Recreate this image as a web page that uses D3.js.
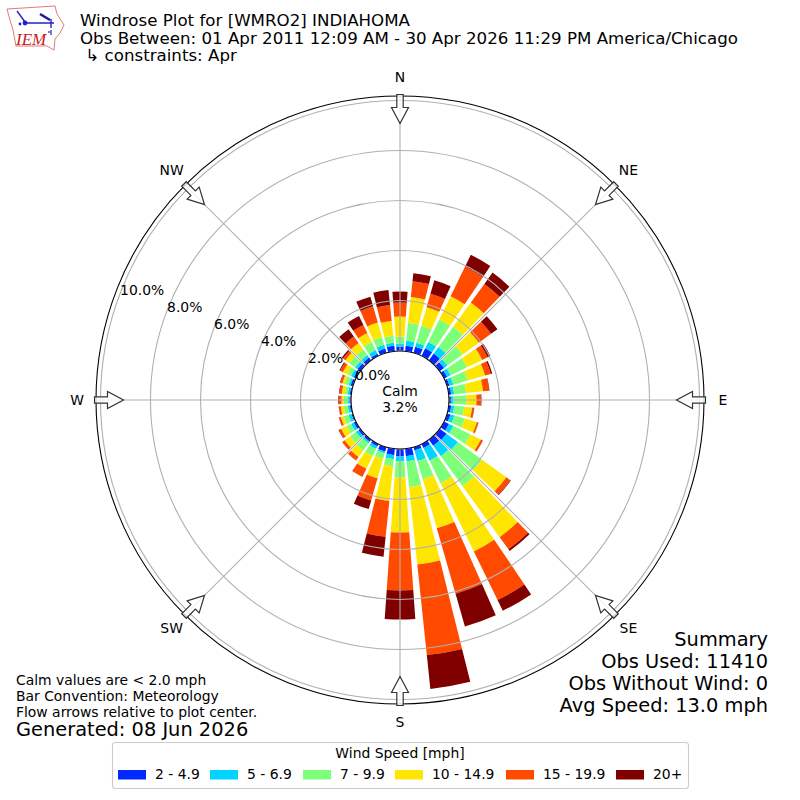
<!DOCTYPE html>
<html>
<head>
<meta charset="utf-8">
<script src="https://cdn.jsdelivr.net/npm/d3@7"></script>
<style>
  body { margin: 0; background: #fff; }
  svg { display: block; }
  text { font-family: "DejaVu Sans", sans-serif; fill: #000; }
</style>
</head>
<body>
<div id="chart"></div>
<script>
// percent of obs per 10 degree bin, starting at N and going clockwise
const directions = d3.range(0, 360, 10);

const speedLabels = ['2 - 4.9', '5 - 6.9', '7 - 9.9', '10 - 14.9', '15 - 19.9', '20+'];
const speedColors = ['#0028ff', '#00d4ff', '#7dff7a', '#ffe600', '#ff4a00', '#800000'];

const speed2to5 = [.16, .20, .24, .32, .32, .20, .12, .08, .08, .06, .08, .12, .20, .32, .28, .16, .12, .28,
  .28, .24, .16, .08, .08, .08, .08, .04, .04, .04, .04, .08, .08, .12, .12, .08, .16, .20];
const speed5to7 = [.12, .20, .16, .28, .32, .16, .16, .16, .12, .10, .12, .16, .20, .56, .52, .56, .44, .20,
  .20, .16, .08, .12, .08, .12, .12, .12, .08, .08, .08, .08, .12, .12, .12, .16, .16, .12];
const speed7to10 = [.28, .72, .72, 1.00, 1.00, .76, .72, .60, .48, .52, .40, .44, .76, 1.20, 1.48, 1.00, .76, 1.04,
  .64, .28, .24, .32, .36, .28, .20, .20, .16, .16, .12, .16, .16, .28, .28, .36, .32, .28];
const speed10to15 = [.80, 1.04, .76, 1.04, 1.20, .80, .68, .72, .68, .40, .32, .50, .46, 1.20, 2.52, 3.04, 2.04, 3.12,
  2.20, 1.40, .80, .56, .32, .28, .24, .12, .12, .08, .12, .10, .20, .20, .32, .40, .60, .60];
const speed15to20 = [.56, .64, .56, 1.32, .92, .60, .24, .24, .24, .18, .08, .06, .08, .20, .60, 2.16, 2.72, 3.64,
  2.32, 1.44, .92, .36, .16, .12, .10, .08, .08, .10, .10, .08, .12, .12, .32, .36, .68, .64];
const speed20up = [.44, .32, .56, .52, .56, .32, .12, .06, .02, .02, .01, .01, .01, .02, .08, .48, 1.36, 1.36,
  1.16, .80, .36, .004, .01, .004, .02, .01, .01, .03, .02, .02, .04, .06, .36, .40, .40, .60];

const speedSeries = [speed2to5, speed5to7, speed7to10, speed10to15, speed15to20, speed20up];

const radialTicks = [0, 2, 4, 6, 8, 10];
const compassAngles = [0, 45, 90, 135, 180, 225, 270, 315];
const compassNames = ['N', 'NE', 'E', 'SE', 'S', 'SW', 'W', 'NW'];
const compassNudge = [0, -2, 0, 0, -1, 0, 0, -2];

const titleLines = [
  'Windrose Plot for [WMRO2] INDIAHOMA',
  'Obs Between: 01 Apr 2011 12:09 AM - 30 Apr 2026 11:29 PM America/Chicago',
  ' \u21b3 constraints: Apr'
];
const noteLines = ['Calm values are < 2.0 mph', 'Bar Convention: Meteorology', 'Flow arrows relative to plot center.'];
const summaryLines = ['Summary', 'Obs Used: 11410', 'Obs Without Wind: 0', 'Avg Speed: 13.0 mph'];

const WIDTH = 800,
      HEIGHT = 800,
      CX = 400,
      CY = 400,
      BAR_DEG = 8,
      OUTER_R = 304;

const rad = (deg) => deg * Math.PI / 180;

const svg = d3.select('#chart').append('svg')
  .attr('width', WIDTH)
  .attr('height', HEIGHT);

const r = d3.scaleLinear().domain([0, 10]).range([49.5, 299.5]);

const plot = svg.append('g').attr('transform', 'translate(' + CX + ',' + CY + ')');

// stacked bars
const stacked = d3.stack()
  .keys(d3.range(speedSeries.length))
  .value((d, k) => speedSeries[k][d])(d3.range(directions.length));

const arc = d3.arc();

plot.selectAll('g.layer')
  .data(stacked)
  .enter().append('g')
  .attr('class', 'layer')
  .attr('fill', (d, i) => speedColors[i])
  .selectAll('path')
  .data((d) => d)
  .enter().append('path')
  .attr('d', (d) => {
    const a = directions[d.data];
    return arc({
      innerRadius: r(d[0]),
      outerRadius: r(d[1]),
      startAngle: rad(a - BAR_DEG / 2),
      endAngle: rad(a + BAR_DEG / 2)
    });
  });

// grid goes on top of the bars
plot.selectAll('circle.grid')
  .data(radialTicks.slice(1))
  .enter().append('circle')
  .attr('class', 'grid')
  .attr('r', (d) => r(d))
  .attr('fill', 'none')
  .attr('stroke', '#b0b0b0')
  .attr('stroke-width', 1.1);

plot.selectAll('line.grid')
  .data(compassAngles)
  .enter().append('line')
  .attr('class', 'grid')
  .attr('x1', (d) => r(0) * Math.sin(rad(d)))
  .attr('y1', (d) => -r(0) * Math.cos(rad(d)))
  .attr('x2', (d) => OUTER_R * Math.sin(rad(d)))
  .attr('y2', (d) => -OUTER_R * Math.cos(rad(d)))
  .attr('stroke', '#b0b0b0')
  .attr('stroke-width', 1.1);

plot.append('circle')
  .attr('r', OUTER_R)
  .attr('fill', 'none')
  .attr('stroke', '#000')
  .attr('stroke-width', 1.1);

plot.append('circle')
  .attr('r', r(0) - 0.5)
  .attr('fill', '#fff')
  .attr('stroke', '#000')
  .attr('stroke-width', 1.1);

// flow arrows, drawn pointing down from the north edge
const arrowShape = [[-3.2, 0], [3.2, 0], [3.2, 13], [8.5, 13], [0, 29], [-8.5, 13], [-3.2, 13]];

plot.selectAll('path.arrow')
  .data(compassAngles)
  .enter().append('path')
  .attr('class', 'arrow')
  .attr('d', d3.line()(arrowShape) + 'Z')
  .attr('transform', (d) => 'rotate(' + d + ') translate(0,' + (-OUTER_R - 1.5) + ')')
  .attr('fill', '#fff')
  .attr('fill-opacity', 0.8)
  .attr('stroke', '#333')
  .attr('stroke-width', 1.2);

plot.selectAll('text.compass')
  .data(compassAngles)
  .enter().append('text')
  .attr('class', 'compass')
  .attr('x', (d) => 323 * Math.sin(rad(d)))
  .attr('y', (d, i) => -323 * Math.cos(rad(d)) + compassNudge[i])
  .attr('text-anchor', 'middle')
  .attr('dominant-baseline', 'central')
  .style('font-size', '13.9px')
  .text((d, i) => compassNames[i]);

plot.selectAll('text.rlabel')
  .data(radialTicks)
  .enter().append('text')
  .attr('class', 'rlabel')
  .attr('x', (d) => r(d) * Math.sin(rad(290)) + 1.5)
  .attr('y', (d) => -r(d) * Math.cos(rad(290)) - 8)
  .attr('dominant-baseline', 'central')
  .style('font-size', '13.9px')
  .text((d) => d.toFixed(1) + '%');

plot.append('text')
  .attr('y', -9)
  .attr('text-anchor', 'middle')
  .attr('dominant-baseline', 'central')
  .style('font-size', '13.9px')
  .text('Calm');

plot.append('text')
  .attr('y', 7)
  .attr('text-anchor', 'middle')
  .attr('dominant-baseline', 'central')
  .style('font-size', '13.9px')
  .text('3.2%');

// header
svg.selectAll('text.title')
  .data(titleLines)
  .enter().append('text')
  .attr('class', 'title')
  .attr('x', 80)
  .attr('y', (d, i) => 26 + i * 17.7)
  .attr('xml:space', 'preserve')
  .style('font-size', '16.67px')
  .style('white-space', 'pre')
  .text((d) => d);

// notes, bottom left
svg.selectAll('text.note')
  .data(noteLines)
  .enter().append('text')
  .attr('class', 'note')
  .attr('x', 16)
  .attr('y', (d, i) => 685 + i * 16)
  .style('font-size', '13.9px')
  .text((d) => d);

svg.append('text')
  .attr('x', 16)
  .attr('y', 736)
  .style('font-size', '19.4px')
  .text('Generated: 08 Jun 2026');

// summary, bottom right
svg.selectAll('text.summary')
  .data(summaryLines)
  .enter().append('text')
  .attr('class', 'summary')
  .attr('x', 768)
  .attr('y', (d, i) => 646 + i * 22)
  .attr('text-anchor', 'end')
  .style('font-size', '19.4px')
  .text((d) => d);

// legend
const legend = svg.append('g');
const legendPatchX = [118, 210, 303, 395, 506, 616];

legend.append('rect')
  .attr('x', 112.5)
  .attr('y', 742.5)
  .attr('width', 576)
  .attr('height', 46)
  .attr('rx', 3)
  .attr('fill', '#fff')
  .attr('stroke', '#ccc')
  .attr('stroke-width', 1.1);

legend.append('text')
  .attr('x', 400)
  .attr('y', 758)
  .attr('text-anchor', 'middle')
  .style('font-size', '13.9px')
  .text('Wind Speed [mph]');

legend.selectAll('rect.patch')
  .data(speedLabels)
  .enter().append('rect')
  .attr('class', 'patch')
  .attr('x', (d, i) => legendPatchX[i])
  .attr('y', 770)
  .attr('width', 28)
  .attr('height', 9.5)
  .attr('fill', (d, i) => speedColors[i]);

legend.selectAll('text.item')
  .data(speedLabels)
  .enter().append('text')
  .attr('class', 'item')
  .attr('x', (d, i) => legendPatchX[i] + 37)
  .attr('y', 779)
  .style('font-size', '13.9px')
  .text((d) => d);

// IEM logo
const logo = svg.append('g').attr('transform', 'translate(7,6)');
const iowaOutline = [[0, 3], [48, 0], [50, 8], [57, 19], [53, 27], [48, 33], [47, 44], [40, 40], [9, 40], [6, 24], [3, 14]];

logo.append('path')
  .attr('d', d3.line()(iowaOutline) + 'Z')
  .attr('fill', '#fff')
  .attr('stroke', '#e06a6a')
  .attr('stroke-width', 0.9);

logo.append('path')
  .attr('d', 'M18,17H47M44,13V22M10,5L18,16')
  .attr('fill', 'none')
  .attr('stroke', '#2222cc')
  .attr('stroke-width', 1.4);

logo.append('path')
  .attr('d', 'M33,8L43,14')
  .attr('fill', 'none')
  .attr('stroke', '#1a1a99')
  .attr('stroke-width', 2.6);

logo.append('path')
  .attr('d', 'M44,24V29M42,25V27')
  .attr('fill', 'none')
  .attr('stroke', '#2222cc')
  .attr('stroke-width', 1.2);

logo.append('circle')
  .attr('cx', 18)
  .attr('cy', 17)
  .attr('r', 2.4)
  .attr('fill', '#2222cc');

logo.append('circle')
  .attr('cx', 13)
  .attr('cy', 18)
  .attr('r', 1.4)
  .attr('fill', '#2222cc');

logo.append('text')
  .attr('x', 9)
  .attr('y', 39)
  .style('font-family', '"Liberation Serif", serif')
  .style('font-style', 'italic')
  .style('font-size', '17px')
  .style('fill', '#c82020')
  .text('IEM');
</script>
</body>
</html>
